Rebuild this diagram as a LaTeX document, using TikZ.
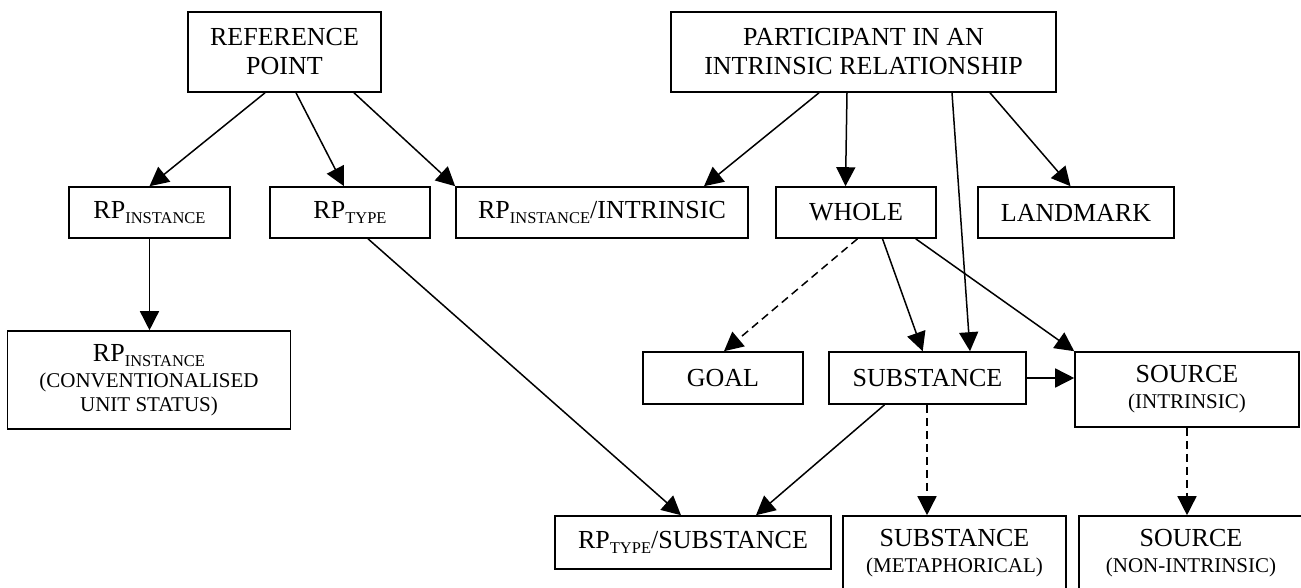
\documentclass[tikz,border=0pt]{standalone}
\usepackage{fontspec}
\setmainfont{Liberation Serif}
\usetikzlibrary{arrows.meta}
% lowered small-caps style index after "RP"
\newcommand\idx[1]{\raisebox{-5pt}{\fontsize{16.5}{16.5}\selectfont #1}}
% smaller second-line qualifiers
\newcommand\qual[1]{{\fontsize{21}{25}\selectfont #1}}
\begin{document}
\begin{tikzpicture}[x=1pt,y=-1pt,
  box/.style={draw,line width=1.6pt,inner sep=0pt,align=center,
    font=\fontsize{26}{29}\selectfont},
  link/.style={line width=1.5pt,-{Triangle[length=19pt,width=19pt]}},
  weak/.style={link,dash pattern=on 8pt off 5pt}]
\useasboundingbox (0,0) rectangle (1301,588);
\clip (0,0) rectangle (1301,588);

% top row
\node[box,minimum width=193pt,minimum height=80pt] (ref) at (284.5,52) {REFERENCE\\POINT};
\node[box,minimum width=385pt,minimum height=80pt] (part) at (863.5,52) {PARTICIPANT IN AN\\INTRINSIC RELATIONSHIP};

% second row
\node[box,minimum width=161pt,minimum height=51pt] (rpi) at (149.5,212.5) {RP\idx{INSTANCE}};
\node[box,minimum width=160pt,minimum height=51pt] (rpt) at (350,212.5) {RP\idx{TYPE}};
\node[box,minimum width=292pt,minimum height=51pt] (rpii) at (602,212.5) {RP\idx{INSTANCE}/INTRINSIC};
\node[box,minimum width=160pt,minimum height=51pt] (whole) at (856,212.5) {WHOLE};
\node[box,minimum width=196pt,minimum height=51pt] (land) at (1076,212.5) {LANDMARK};

% third row
\node[box,minimum width=283pt,minimum height=98pt] (conv) at (149,380)
  {RP\idx{INSTANCE}\\[-3pt]\qual{(CONVENTIONALISED}\\[-5pt]\qual{UNIT STATUS)}};
\node[box,minimum width=160pt,minimum height=52pt] (goal) at (723,378) {GOAL};
\node[box,minimum width=197pt,minimum height=52pt] (subst) at (927.5,378) {SUBSTANCE};
\node[box,minimum width=224pt,minimum height=75pt] (srci) at (1187,389.5) {SOURCE\\[-3pt]\qual{(INTRINSIC)}};

% bottom row
\node[box,minimum width=276pt,minimum height=53pt] (rpts) at (693,542.5) {RP\idx{TYPE}/SUBSTANCE};
\node[box,minimum width=223pt,minimum height=75pt] (meta) at (954.5,553.5) {SUBSTANCE\\[-3pt]\qual{(METAPHORICAL)}};
\node[box,minimum width=224pt,minimum height=75pt] (srcn) at (1191,553.5) {SOURCE\\[-3pt]\qual{(NON-INTRINSIC)}};

% connectors
\draw[link] (ref.south -| 265,0) -- (rpi.north);
\draw[link] (ref.south -| 296,0) -- (rpt.north -| 344,0);
\draw[link] (ref.south -| 354,0) -- (rpii.north west);
\draw[link] (rpi.south) -- (conv.north -| rpi.south);
\draw[link] (rpt.south -| 368,0) -- (rpts.north -| 681,0);
\draw[link] (part.south -| 819,0) -- (rpii.north -| 704,0);
\draw[link] (part.south -| 847,0) -- (whole.north -| 845.5,0);
\draw[link] (part.south -| 952,0) -- (subst.north -| 970,0);
\draw[link] (part.south -| 990,0) -- (land.north -| 1070.5,0);
\draw[weak] (whole.south -| 857.5,0) -- (goal.north -| 724,0);
\draw[link] (whole.south -| 882.5,0) -- (subst.north -| 922.7,0);
\draw[link] (whole.south -| 915.7,0) -- (srci.north west);
\draw[link] (subst.east) -- (srci.west |- subst.east);
\draw[link] (subst.south -| 884.5,0) -- (rpts.north -| 756,0);
\draw[weak] (subst.south -| 927,0) -- (meta.north -| 927,0);
\draw[weak] (srci.south) -- (srcn.north -| srci.south);
\end{tikzpicture}
\end{document}
